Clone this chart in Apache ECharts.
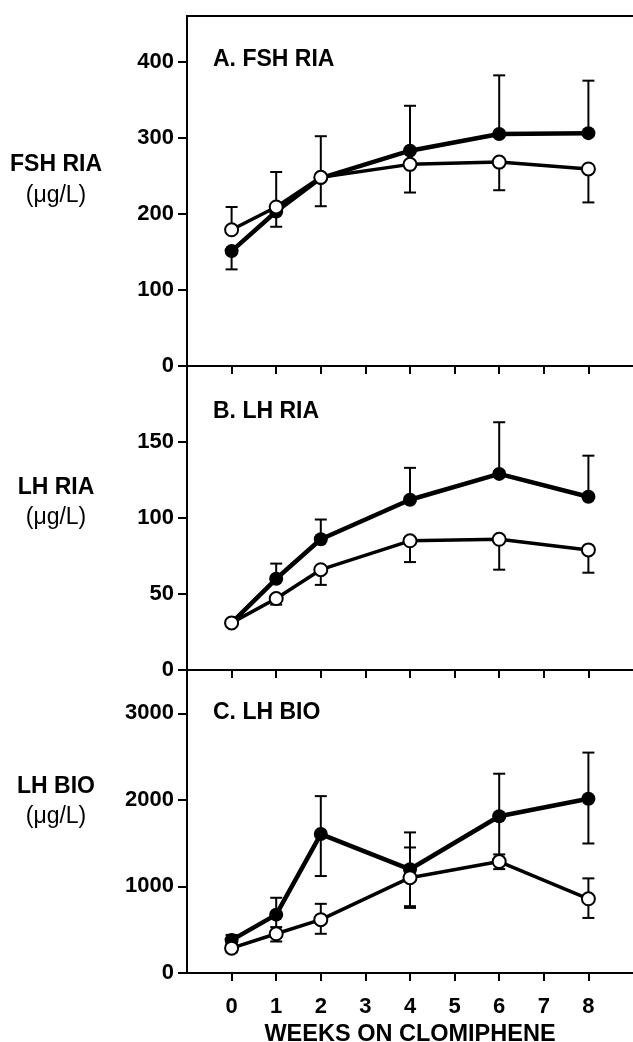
<!DOCTYPE html>
<html>
<head>
<meta charset="utf-8">
<script src="https://cdn.jsdelivr.net/npm/echarts@6/dist/echarts.min.js"></script>
<style>html,body{margin:0;padding:0;background:#fff}#c{width:633px;height:1042px}</style>
</head>
<body>
<div id="c"></div>
<script>
// ---- data ----
var weeks = [0, 1, 2, 4, 6, 8];
var xTicks = [0, 1, 2, 3, 4, 5, 6, 7, 8];

var fshFilled   = [151, 203, 247, 283, 305, 306];
var fshFilledHi = [151, 255, 302, 342, 382, 375];
var fshFilledLo = [127, 203, 247, 283, 305, 306];
var fshOpen     = [179, 209, 248, 265, 268, 259];
var fshOpenHi   = [209, 209, 248, 265, 268, 259];
var fshOpenLo   = [179, 183, 210, 228, 231, 215];
var fshTicks    = [0, 100, 200, 300, 400];

var lhFilled    = [31, 60, 86, 112, 129, 114];
var lhFilledHi  = [31, 70, 99, 133, 163, 141];
var lhFilledLo  = [31, 60, 86, 112, 129, 114];
var lhOpen      = [31, 47, 66, 85, 86, 79];
var lhOpenHi    = [31, 47, 66, 85, 86, 79];
var lhOpenLo    = [31, 43, 56, 71, 66, 64];
var lhTicks     = [0, 50, 100, 150];

var bioFilled   = [380, 674, 1605, 1198, 1810, 2012];
var bioFilledHi = [440, 869, 2043, 1624, 2302, 2546];
var bioFilledLo = [320, 480, 1120, 772, 1320, 1496];
var bioOpen     = [287, 453, 616, 1101, 1287, 857];
var bioOpenHi   = [330, 530, 799, 1450, 1370, 1093];
var bioOpenLo   = [240, 364, 453, 752, 1200, 636];
var bioTicks    = [0, 1000, 2000, 3000];

var panelLabels = ['A. FSH RIA', 'B. LH RIA', 'C. LH BIO'];
var yNames = ['FSH RIA', 'LH RIA', 'LH BIO'];
var unitLabel = '(\u03bcg/L)';
var xName = 'WEEKS ON CLOMIPHENE';

// ---- chart ----
var FONT = '"Liberation Sans", Arial, Helvetica, sans-serif';
var chart = echarts.init(document.getElementById('c'), null, {renderer: 'canvas'});

function pts(v) { return weeks.map(function (w, i) { return [w, v[i]]; }); }
function errPts(v, lo, hi) { return weeks.map(function (w, i) { return [w, v[i], lo[i], hi[i]]; }); }

var grids = [
  {left: 187, right: 0, top: 16, height: 350, containLabel: false, outerBoundsMode: 'none'},
  {left: 187, right: 0, top: 366, height: 304, containLabel: false, outerBoundsMode: 'none'},
  {left: 187, right: 0, top: 670, height: 303, containLabel: false, outerBoundsMode: 'none'}
];

function xAxisFor(i) {
  return {
    type: 'value', gridIndex: i, min: -1, max: 9, position: 'bottom',
    axisLine: {show: true, onZero: false, lineStyle: {color: '#000', width: 2}},
    axisTick: {show: true, inside: false, length: 8, customValues: xTicks, lineStyle: {color: '#000', width: 2}},
    axisLabel: {show: i === 2, customValues: xTicks, margin: 23, color: '#000', fontFamily: FONT, fontWeight: 'bold', fontSize: 22,
      formatter: function (v) { return String(v); }},
    splitLine: {show: false},
    name: i === 2 ? xName : '', nameLocation: 'middle', nameGap: 50,
    nameTextStyle: {color: '#000', fontFamily: FONT, fontWeight: 'bold', fontSize: 23.5}
  };
}
function yAxisFor(i, max, ticks) {
  return {
    type: 'value', gridIndex: i, min: 0, max: max,
    axisLine: {show: true, onZero: false, lineStyle: {color: '#000', width: 2}},
    axisTick: {show: true, inside: false, length: 9, customValues: ticks, lineStyle: {color: '#000', width: 2}},
    axisLabel: {customValues: ticks, margin: 13, color: '#000', fontFamily: FONT, fontWeight: 'bold', fontSize: 22,
      formatter: function (v) { return String(v); }},
    splitLine: {show: false}
  };
}

function errSeries(i, v, lo, hi) {
  return {
    type: 'custom', xAxisIndex: i, yAxisIndex: i, z: 1, silent: true,
    data: errPts(v, lo, hi),
    renderItem: function (params, api) {
      var x = api.value(0), val = api.value(1), l = api.value(2), h = api.value(3);
      var pH = api.coord([x, h]), pL = api.coord([x, l]);
      var cw = 6;
      var children = [{type: 'line', shape: {x1: pH[0], y1: pH[1], x2: pL[0], y2: pL[1]}, style: {stroke: '#000', lineWidth: 2}}];
      if (h > val) children.push({type: 'line', shape: {x1: pH[0] - cw, y1: pH[1], x2: pH[0] + cw, y2: pH[1]}, style: {stroke: '#000', lineWidth: 2}});
      if (l < val) children.push({type: 'line', shape: {x1: pL[0] - cw, y1: pL[1], x2: pL[0] + cw, y2: pL[1]}, style: {stroke: '#000', lineWidth: 2}});
      return {type: 'group', children: children};
    }
  };
}
function lineSeries(i, v, filled) {
  return {
    type: 'line', xAxisIndex: i, yAxisIndex: i, z: filled ? 3 : 4,
    data: pts(v), symbol: 'circle', symbolSize: filled ? 14 : 13,
    showAllSymbol: true, animation: false,
    lineStyle: {color: '#000', width: filled ? 4.5 : 3.5},
    itemStyle: {color: filled ? '#000' : '#fff', borderColor: '#000', borderWidth: filled ? 0 : 2}
  };
}

var graphics = [];
var labelY = [60, 412, 713];
var nameY = [[165, 196], [488, 518], [787, 817]];
for (var k = 0; k < 3; k++) {
  graphics.push({type: 'text', x: 213, y: labelY[k], style: {text: panelLabels[k], fill: '#000', font: 'bold 23px ' + FONT, textAlign: 'left', textVerticalAlign: 'middle'}});
  graphics.push({type: 'text', x: 56, y: nameY[k][0], style: {text: yNames[k], fill: '#000', font: 'bold 23px ' + FONT, textAlign: 'center', textVerticalAlign: 'middle'}});
  graphics.push({type: 'text', x: 56, y: nameY[k][1], style: {text: unitLabel, fill: '#000', font: '23px ' + FONT, textAlign: 'center', textVerticalAlign: 'middle'}});
}

var topAxis = {
  type: 'value', gridIndex: 0, min: -1, max: 9, position: 'top',
  axisLine: {show: true, onZero: false, lineStyle: {color: '#000', width: 2}},
  axisTick: {show: false}, axisLabel: {show: false}, splitLine: {show: false}
};

chart.setOption({
  animation: false,
  backgroundColor: '#fff',
  grid: grids,
  xAxis: [xAxisFor(0), xAxisFor(1), xAxisFor(2), topAxis],
  yAxis: [yAxisFor(0, 460, fshTicks), yAxisFor(1, 200, lhTicks), yAxisFor(2, 3500, bioTicks)],
  series: [
    errSeries(0, fshFilled, fshFilledLo, fshFilledHi),
    errSeries(0, fshOpen, fshOpenLo, fshOpenHi),
    lineSeries(0, fshFilled, true),
    lineSeries(0, fshOpen, false),
    errSeries(1, lhFilled, lhFilledLo, lhFilledHi),
    errSeries(1, lhOpen, lhOpenLo, lhOpenHi),
    lineSeries(1, lhFilled, true),
    lineSeries(1, lhOpen, false),
    errSeries(2, bioFilled, bioFilledLo, bioFilledHi),
    errSeries(2, bioOpen, bioOpenLo, bioOpenHi),
    lineSeries(2, bioFilled, true),
    lineSeries(2, bioOpen, false)
  ],
  graphic: graphics
});
</script>
</body>
</html>
